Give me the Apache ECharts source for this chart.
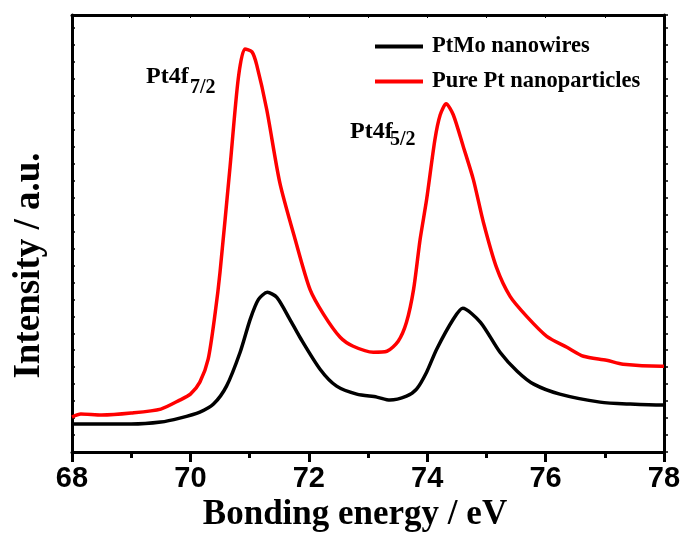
<!DOCTYPE html>
<html>
<head>
<meta charset="utf-8">
<script src="https://cdn.jsdelivr.net/npm/echarts@6/dist/echarts.min.js"></script>
<style>html,body{margin:0;padding:0;background:#fff}#c{width:681px;height:533px}</style>
</head>
<body>
<div id="c"></div>
<script>
// Data (x: binding energy eV, y: intensity, arbitrary units)
var pureX = [68.0,68.15,68.5,69.0,69.5,69.82,70.0,70.16,70.3,70.42,70.5,70.67,70.81,70.92,71.04,71.12,71.29,71.51,71.77,72.02,72.25,72.53,72.75,73.09,73.32,73.51,73.65,73.77,73.88,73.99,74.13,74.22,74.32,74.44,74.61,74.78,74.95,75.17,75.4,75.68,76.02,76.36,76.64,77.03,77.31,77.96,78.0];
var pureY = [35,38,37,39,43,52,58,70,93,140,180,286,375,404,401,388,343,270,213,163,138,115,106,100,101,111,130,163,213,253,313,338,349,338,306,273,230,185,156,136,116,105,96,92,88,86,86];
var ptmoX = [68.0,69.0,69.5,69.82,70.16,70.39,70.61,70.84,71.01,71.15,71.3,71.46,71.68,71.85,72.19,72.47,72.81,73.15,73.37,73.65,73.82,73.99,74.16,74.44,74.6,74.9,75.23,75.52,75.8,76.24,76.92,77.43,77.97,78.0];
var ptmoY = [28,28,30,34,40,48,66,100,133,153,160,155,133,115,83,66,58,55,52,56,63,80,103,133,144,130,100,81,68,58,50,48,47,47];
var seriesNames = ['PtMo nanowires','Pure Pt nanoparticles'];
var xTicks = [68,70,72,74,76,78];
var peakLabels = [['Pt4f','7/2'],['Pt4f','5/2']];

function pairs(xs, ys){ return xs.map(function(x,i){ return [x, ys[i]]; }); }

var serif = 'Liberation Serif';
function txt(t, left, top, size){
  return {type:'text', left:left, top:top,
    style:{text:t, font:'bold '+size+'px "Liberation Serif"', fill:'#000'}};
}
var chart = echarts.init(document.getElementById('c'), null, {renderer:'canvas'});
chart.setOption({
  animation:false,
  backgroundColor:'#fff',
  grid:{left:72, right:17, top:15, bottom:81, containLabel:false, outerBoundsMode:'none'},
  legend:{
    orient:'vertical', left:375, top:35, padding:0, icon:'rect', itemWidth:48, itemHeight:4, itemGap:12,
    data:seriesNames,
    textStyle:{fontFamily:serif, fontWeight:'bold', fontSize:22.5, color:'#000', padding:[0,0,0,4]}
  },
  xAxis:[{
    type:'value', min:68, max:78, interval:2, position:'bottom',
    name:'Bonding energy / eV', nameLocation:'middle', nameGap:45,
    nameTextStyle:{fontFamily:serif, fontWeight:'bold', fontSize:35, color:'#000', padding:[0,26,0,0]},
    axisLine:{onZero:false, lineStyle:{color:'#000', width:3}},
    axisTick:{inside:false, length:10, lineStyle:{color:'#000', width:3}},
    minorTick:{show:true, splitNumber:2, length:6, lineStyle:{color:'#000', width:3}},
    axisLabel:{margin:12, fontFamily:'Liberation Sans', fontWeight:'bold', fontSize:29, color:'#000',
      formatter:function(v){ return xTicks.indexOf(v) >= 0 ? String(v) : ''; }},
    splitLine:{show:false}
  },{
    type:'value', min:68, max:78, interval:1, position:'top',
    axisLine:{onZero:false, lineStyle:{color:'#000', width:3}},
    axisTick:{inside:true, length:3, lineStyle:{color:'#000', width:1}},
    axisLabel:{show:false}, splitLine:{show:false}
  }],
  yAxis:[{
    type:'value', min:0, max:438, interval:17, position:'left',
    name:'Intensity / a.u.', nameLocation:'middle', nameGap:24,
    nameTextStyle:{fontFamily:serif, fontWeight:'bold', fontSize:37, color:'#000', padding:[0,64,0,0]},
    axisLine:{show:true, onZero:false, lineStyle:{color:'#000', width:3}},
    axisTick:{show:true, inside:true, length:3, lineStyle:{color:'#000', width:1.5}},
    axisLabel:{show:false}, splitLine:{show:false}
  },{
    type:'value', min:0, max:438, interval:17, position:'right',
    axisLine:{show:true, onZero:false, lineStyle:{color:'#000', width:3}},
    axisTick:{show:true, inside:false, length:4, lineStyle:{color:'#000', width:1.5}},
    axisLabel:{show:false}, splitLine:{show:false}
  }],
  series:[{
    name:seriesNames[0], type:'line', symbol:'none', smooth:0.25,
    data:pairs(ptmoX, ptmoY), lineStyle:{color:'#000', width:3.5}, itemStyle:{color:'#000'}, z:3
  },{
    name:seriesNames[1], type:'line', symbol:'none', smooth:0.25,
    data:pairs(pureX, pureY), lineStyle:{color:'#ff0000', width:3.5}, itemStyle:{color:'#ff0000'}, z:4
  }],
  graphic:[
    txt(peakLabels[0][0], 146, 65, 24), txt(peakLabels[0][1], 190, 78, 20),
    txt(peakLabels[1][0], 350, 120, 24), txt(peakLabels[1][1], 390, 130, 20)
  ]
});
</script>
</body>
</html>
